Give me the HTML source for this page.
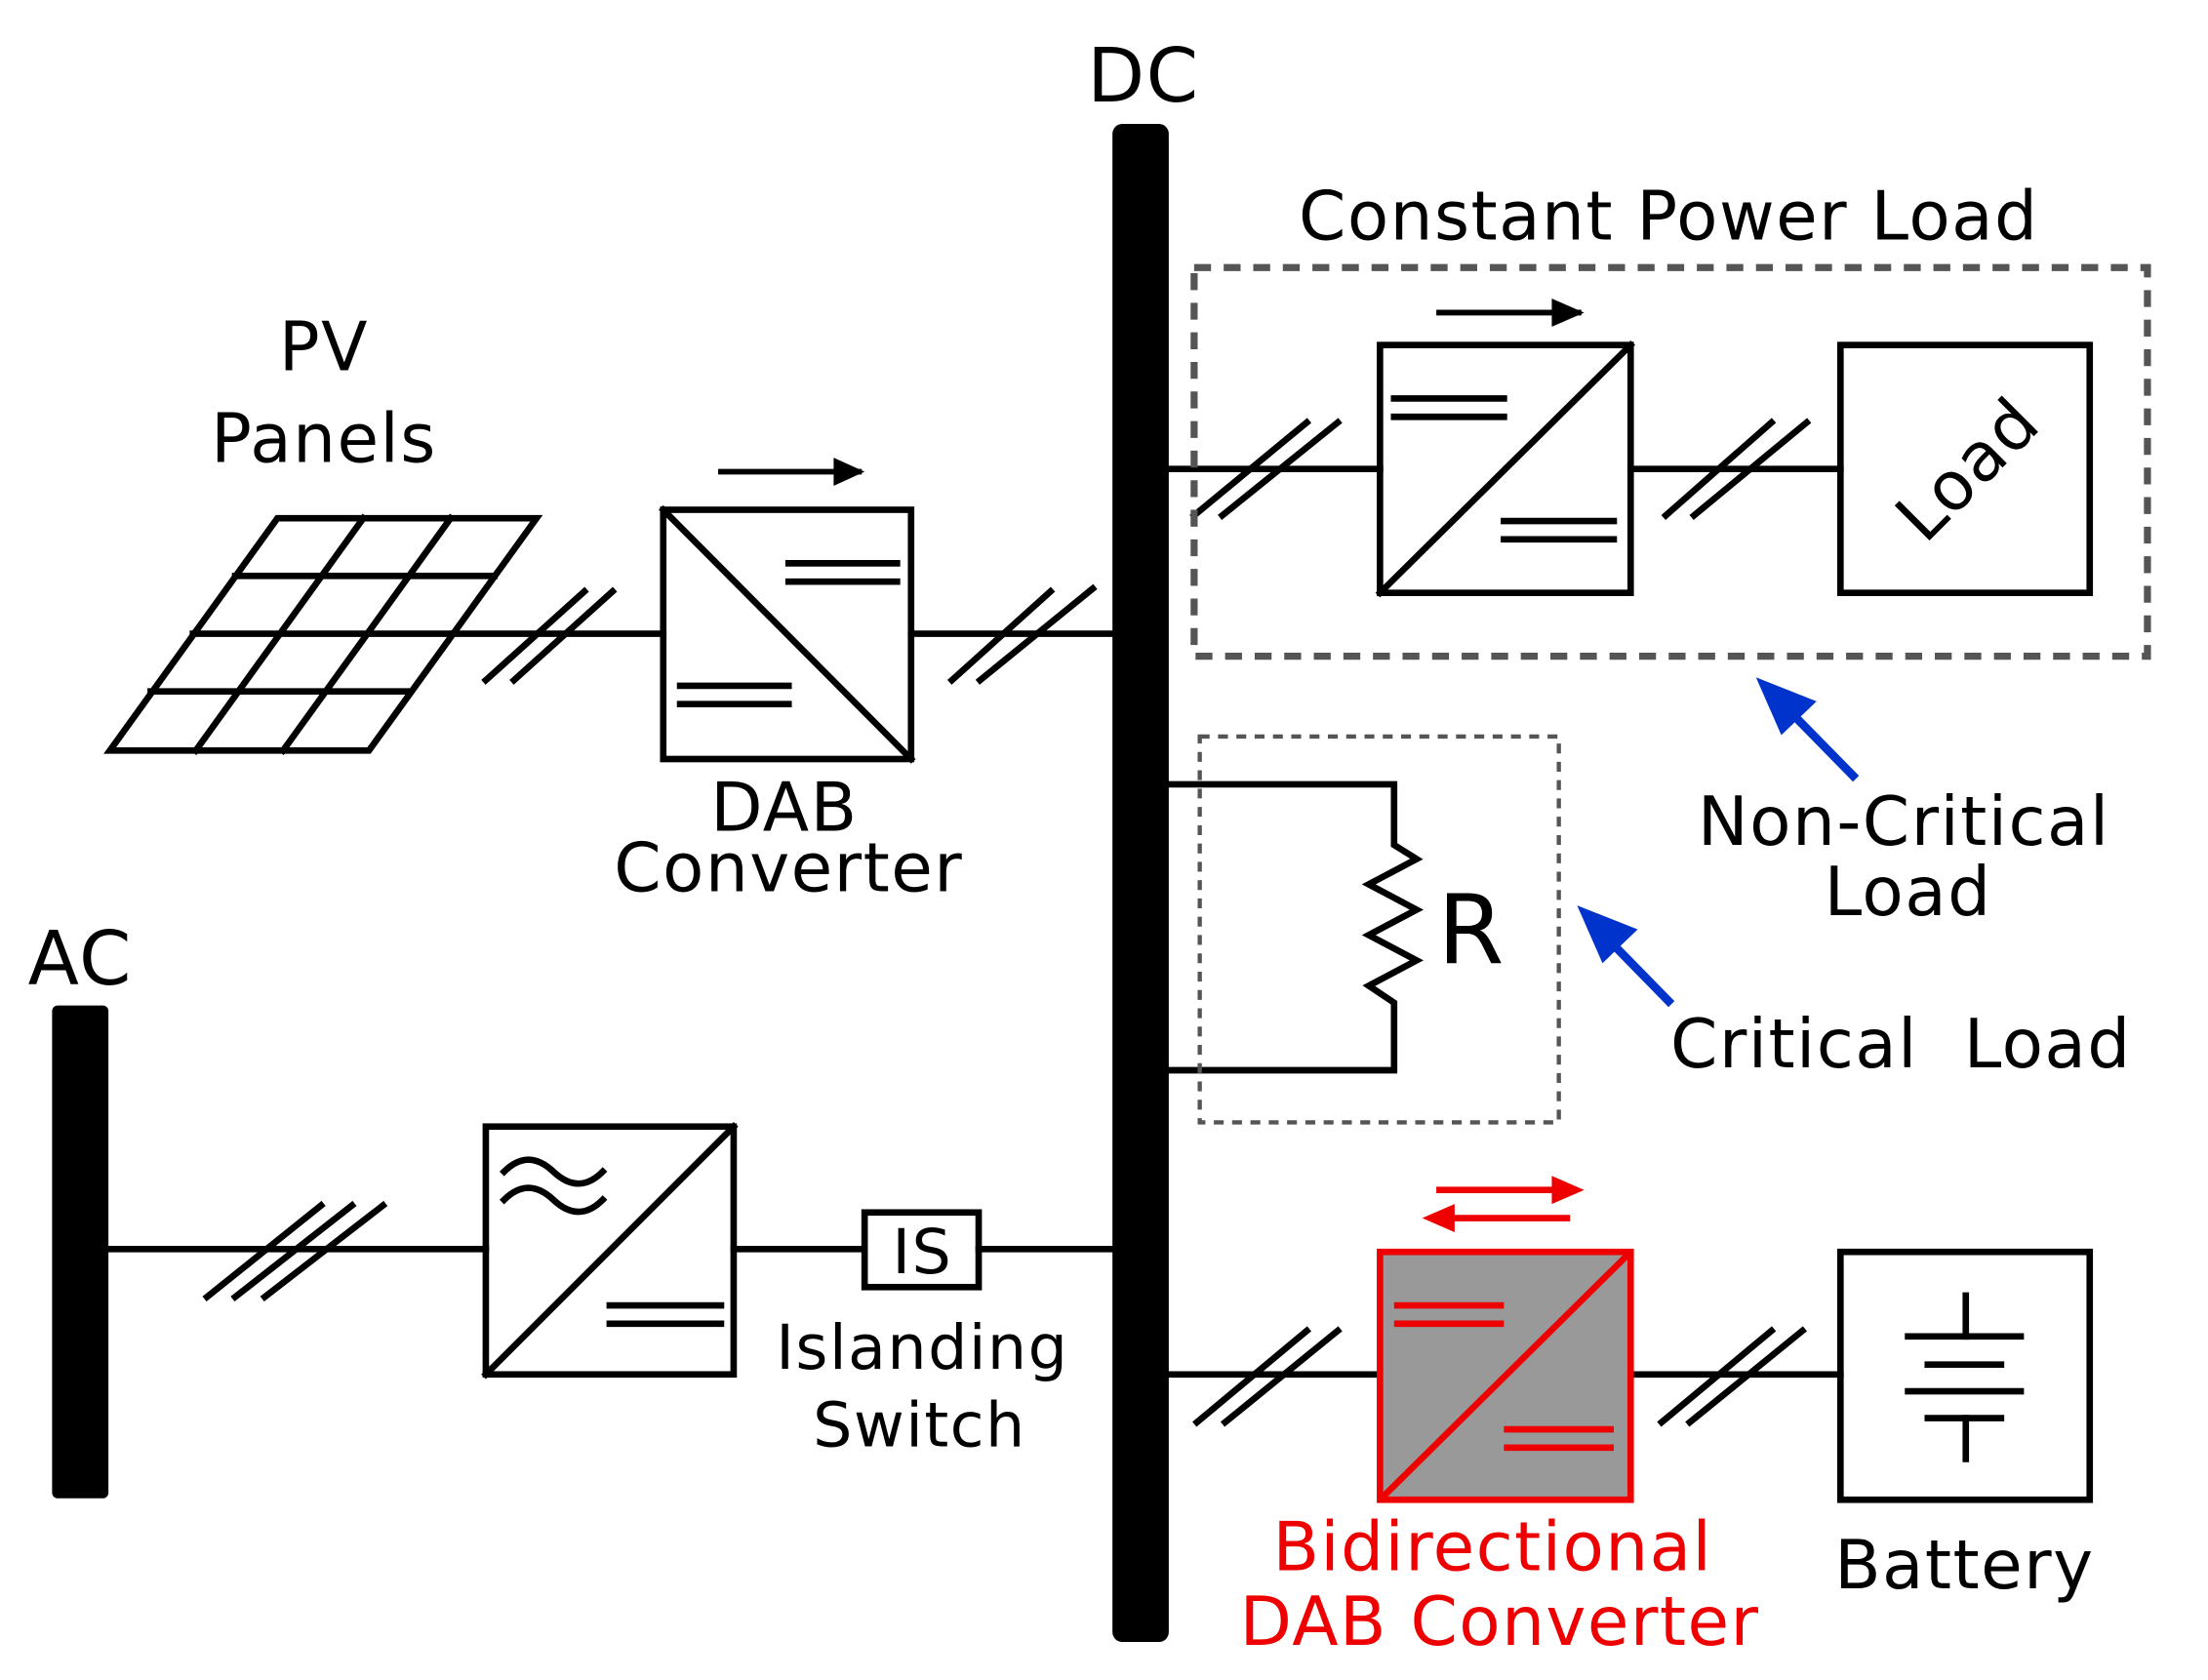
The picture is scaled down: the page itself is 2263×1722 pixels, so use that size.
<!DOCTYPE html>
<html><head><meta charset="utf-8"><style>html,body{margin:0;padding:0;background:#fff}svg{display:block}</style></head>
<body>
<svg width="2263" height="1722" viewBox="0 0 1568 1193" preserveAspectRatio="none" xmlns="http://www.w3.org/2000/svg" font-family="'DejaVu Sans','Liberation Sans',sans-serif">
<g stroke="#000" stroke-width="4.6" fill="none" stroke-linecap="square">
<path d="M197,368 L381,368 L262,533 L78,533 Z"/>
<line x1="167" y1="409" x2="351" y2="409"/>
<line x1="137" y1="450" x2="321" y2="450"/>
<line x1="107" y1="491" x2="291" y2="491"/>
<line x1="258" y1="368" x2="139" y2="533"/>
<line x1="320" y1="368" x2="201" y2="533"/>
<line x1="322" y1="450" x2="471" y2="450"/>
<line x1="345" y1="483" x2="415" y2="420"/><line x1="365" y1="483" x2="435" y2="420"/>
<rect x="471" y="362" width="176" height="177"/>
<line x1="471" y1="362" x2="647" y2="539"/>
<line x1="560" y1="400" x2="637" y2="400"/><line x1="560" y1="413" x2="637" y2="413"/>
<line x1="483" y1="487" x2="560" y2="487"/><line x1="483" y1="500" x2="560" y2="500"/>
<line x1="647" y1="450" x2="790" y2="450"/>
<line x1="676" y1="483" x2="746" y2="420"/><line x1="696" y1="483" x2="776" y2="418"/>
<line x1="830" y1="333" x2="980" y2="333"/>
<line x1="848" y1="366" x2="928" y2="300"/><line x1="868" y1="366" x2="950" y2="300"/>
<rect x="980" y="245" width="178" height="176"/>
<line x1="980" y1="421" x2="1158" y2="245"/>
<line x1="990" y1="283" x2="1068" y2="283"/><line x1="990" y1="296" x2="1068" y2="296"/>
<line x1="1068" y1="370" x2="1146" y2="370"/><line x1="1068" y1="383" x2="1146" y2="383"/>
<line x1="1158" y1="333" x2="1307" y2="333"/>
<line x1="1183" y1="366" x2="1258" y2="300"/><line x1="1203" y1="366" x2="1283" y2="300"/>
<rect x="1307" y="245" width="177" height="176"/>
<path d="M830,557 L990,557 L990,600 L1006,610 L972,628 L1006,646 L972,664 L1006,682 L972,700 L990,712 L990,760 L830,760"/>
<line x1="77" y1="887" x2="345" y2="887"/>
<line x1="147" y1="921" x2="228" y2="856"/><line x1="167" y1="921" x2="250" y2="856"/><line x1="188" y1="921" x2="272" y2="856"/>
<rect x="345" y="800" width="176" height="176"/>
<line x1="345" y1="976" x2="521" y2="800"/>
<path d="M358,832 Q375,815 393,832 T428,832" /><path d="M358,852 Q375,835 393,852 T428,852"/>
<line x1="433" y1="927" x2="512" y2="927"/><line x1="433" y1="940" x2="512" y2="940"/>
<line x1="521" y1="887" x2="614" y2="887"/>
<rect x="614" y="861" width="81" height="53"/>
<line x1="695" y1="887" x2="790" y2="887"/>
<line x1="830" y1="976" x2="980" y2="976"/>
<line x1="850" y1="1010" x2="928" y2="945"/><line x1="870" y1="1010" x2="950" y2="945"/>
<line x1="1158" y1="976" x2="1307" y2="976"/>
<line x1="1180" y1="1010" x2="1258" y2="945"/><line x1="1200" y1="1010" x2="1280" y2="945"/>
<rect x="1307" y="889" width="177" height="176"/>
<line x1="1396" y1="920" x2="1396" y2="949"/>
<line x1="1355" y1="949" x2="1435" y2="949"/>
<line x1="1369" y1="969" x2="1421" y2="969"/>
<line x1="1355" y1="988" x2="1435" y2="988"/>
<line x1="1369" y1="1007" x2="1421" y2="1007"/>
<line x1="1396" y1="1007" x2="1396" y2="1036"/>
</g>
<line x1="510" y1="335" x2="612" y2="335" stroke="#000" stroke-width="4"/><path d="M592,325 L614,335 L592,345 Z" fill="#000"/>
<line x1="1020" y1="222" x2="1123" y2="222" stroke="#000" stroke-width="4"/><path d="M1102,212 L1125,222 L1102,232 Z" fill="#000"/>
<rect x="848" y="190" width="677" height="276" fill="none" stroke="#555" stroke-width="5" stroke-dasharray="12,9"/>
<rect x="852" y="523" width="255" height="274" fill="none" stroke="#555" stroke-width="3" stroke-dasharray="7,6"/>
<rect x="790" y="88" width="40" height="1078" rx="7" fill="#000"/>
<rect x="37" y="714" width="40" height="350" rx="4" fill="#000"/>
<rect x="980" y="889" width="178" height="176" fill="#999" stroke="#e00" stroke-width="4.6"/>
<g stroke="#e00" stroke-width="4.6">
<line x1="980" y1="1065" x2="1158" y2="889"/>
<line x1="990" y1="927" x2="1068" y2="927"/><line x1="990" y1="940" x2="1068" y2="940"/>
<line x1="1068" y1="1015" x2="1146" y2="1015"/><line x1="1068" y1="1028" x2="1146" y2="1028"/>
<line x1="1020" y1="845" x2="1105" y2="845"/><line x1="1030" y1="865" x2="1115" y2="865"/>
</g>
<path d="M1102,835 L1125,845 L1102,855 Z" fill="#e00"/><path d="M1033,855 L1010,865 L1033,875 Z" fill="#e00"/>
<g stroke="#0033cc" stroke-width="6"><line x1="1318" y1="553" x2="1268" y2="502"/><line x1="1187" y1="713" x2="1140" y2="665"/></g>
<path d="M1247,481 L1290,498 L1265,522 Z" fill="#0033cc"/>
<path d="M1120,643 L1163,660 L1138,684 Z" fill="#0033cc"/>
<g font-size="48" fill="#000" text-anchor="middle" letter-spacing="1">
<text x="812" y="72" font-size="53">DC</text>
<text x="57" y="699" font-size="53">AC</text>
<text x="230" y="263">PV</text>
<text x="230" y="328">Panels</text>
<text x="557" y="590">DAB</text>
<text x="560" y="633">Converter</text>
<text x="1185" y="170">Constant Power Load</text>
<text x="1397" y="350" transform="rotate(-45 1397 333)">Load</text>
<text x="1352" y="600">Non-Critical</text>
<text x="1355" y="650">Load</text>
<text x="1045" y="684" font-size="68">R</text>
<text x="1350" y="758" xml:space="preserve">Critical  Load</text>
<text x="655" y="904" font-size="44">IS</text>
<text x="655" y="972" font-size="44">Islanding</text>
<text x="653" y="1027" font-size="44">Switch</text>
<text x="1060" y="1115" fill="#e00">Bidirectional</text>
<text x="1065" y="1168" fill="#e00">DAB Converter</text>
<text x="1395" y="1128">Battery</text>
</g>
</svg>
</body></html>
